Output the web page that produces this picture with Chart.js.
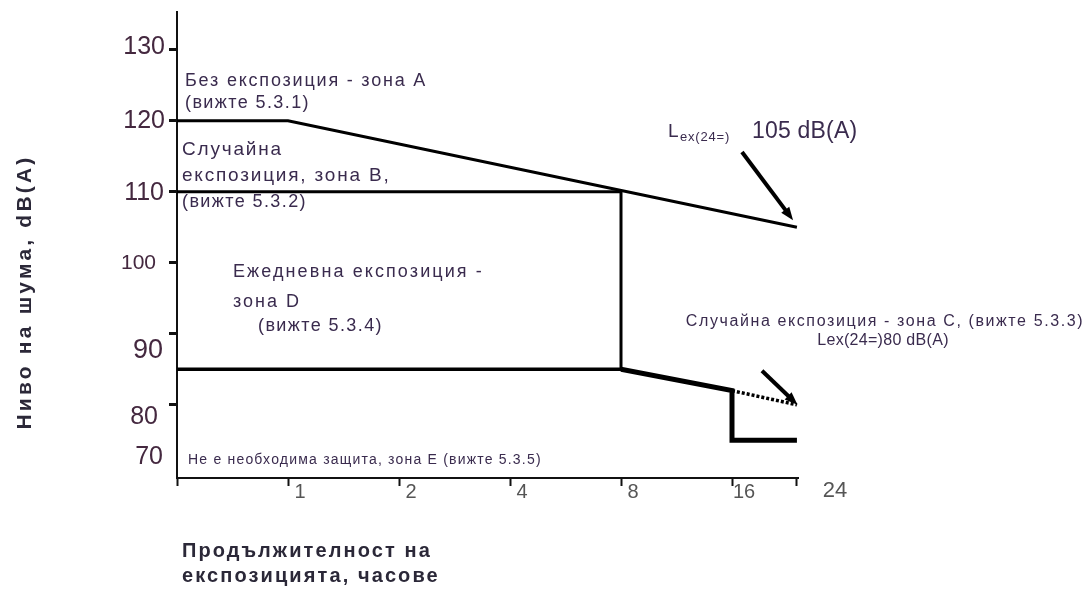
<!DOCTYPE html>
<html>
<head>
<meta charset="utf-8">
<script src="https://cdn.jsdelivr.net/npm/chart.js@4"></script>
<style>
  body { margin: 0; background: #fff; }
  #wrap { width: 1088px; height: 592px; position: relative; }
</style>
</head>
<body>
<div id="wrap"><canvas id="noiseChart"></canvas></div>
<script>
// exposure duration, hours (axis is log2, with 0 at the origin)
var hourTicks = [0, 1, 2, 4, 8, 16, 24];
var hourLabels = ['', '1', '2', '4', '8', '16', '24'];
// noise level tick labels, dB(A)
var dbTicks = [70, 80, 90, 100, 110, 120, 130];

// zone boundaries: hours and dB(A)
var zoneAHours = [0, 1, 24];
var zoneADb = [120, 120, 105];
var zoneBHours = [0, 8, 8];
var zoneBDb = [110, 110, 85];
var zoneDHours = [0, 8];
var zoneDDb = [85, 85];
var zoneCHours = [8, 16, 16, 24];
var zoneCDb = [85, 82, 75, 75];
var zoneCDotHours = [16, 24];
var zoneCDotDb = [82, 80];

var FONT = '"Liberation Sans", Arial, sans-serif';
var TXT = '#3a2b4e';

function hx(h) { return h === 0 ? 0 : 1 + Math.log2(h); }
function pts(hs, dbs) {
  return hs.map(function(h, i) { return { x: hx(h), y: dbs[i] }; });
}
function lineSet(hs, dbs, width, dash) {
  return {
    data: pts(hs, dbs),
    showLine: true,
    borderColor: '#000',
    borderWidth: width,
    borderDash: dash || [],
    pointRadius: 0,
    fill: false,
    tension: 0
  };
}

// y tick labels are placed a little loosely in the original
var yLabelStyle = {
  130: { dy: -3, size: 25, right: 165 },
  120: { dy: 0, size: 25, right: 165 },
  110: { dy: 1, size: 25, right: 164 },
  100: { dy: 0, size: 21, right: 156 },
  90: { dy: 17, size: 27, right: 163 },
  80: { dy: 12, size: 25, right: 158 },
  70: { dy: -19, size: 25, right: 163 }
};

function text(ctx, s, x, y, size, opts) {
  opts = opts || {};
  ctx.save();
  ctx.font = (opts.bold ? 'bold ' : '') + size + 'px ' + FONT;
  ctx.fillStyle = opts.color || TXT;
  ctx.textAlign = opts.align || 'left';
  ctx.textBaseline = 'middle';
  if ('letterSpacing' in ctx) ctx.letterSpacing = (opts.ls || 0) + 'px';
  if (opts.rotate) {
    ctx.translate(x, y);
    ctx.rotate(opts.rotate);
    ctx.fillText(s, 0, 0);
  } else {
    ctx.fillText(s, x, y);
  }
  ctx.restore();
}

function arrow(ctx, x1, y1, x2, y2) {
  var a = Math.atan2(y2 - y1, x2 - x1);
  var len = 13, half = 5;
  ctx.save();
  ctx.strokeStyle = '#000';
  ctx.fillStyle = '#000';
  ctx.lineWidth = 4;
  ctx.beginPath();
  ctx.moveTo(x1, y1);
  ctx.lineTo(x2 - Math.cos(a) * len * 0.7, y2 - Math.sin(a) * len * 0.7);
  ctx.stroke();
  ctx.beginPath();
  ctx.moveTo(x2, y2);
  ctx.lineTo(x2 - Math.cos(a) * len - Math.sin(a) * half, y2 - Math.sin(a) * len + Math.cos(a) * half);
  ctx.lineTo(x2 - Math.cos(a) * len + Math.sin(a) * half, y2 - Math.sin(a) * len - Math.cos(a) * half);
  ctx.closePath();
  ctx.fill();
  ctx.restore();
}

var annotations = {
  id: 'annotations',
  afterDraw: function(chart) {
    var ctx = chart.ctx;
    var xs = chart.scales.x, ys = chart.scales.y;

    dbTicks.forEach(function(v) {
      var st = yLabelStyle[v];
      text(ctx, String(v), st.right, ys.getPixelForValue(v) + st.dy, st.size, { color: '#44283f', align: 'right' });
    });
    // last hour label sits well to the right of its tick
    text(ctx, hourLabels[hourLabels.length - 1], xs.getPixelForValue(hx(24)) + 38, 491, 22, { color: '#555', align: 'center' });

    text(ctx, 'Без експозиция - зона А', 185, 81, 18, { ls: 1.8 });
    text(ctx, '(вижте 5.3.1)', 185, 103, 18, { ls: 1.4 });
    text(ctx, 'Случайна', 182, 150, 19, { ls: 1.8 });
    text(ctx, 'експозиция, зона В,', 182, 176, 19, { ls: 1.8 });
    text(ctx, '(вижте 5.3.2)', 182, 202, 18, { ls: 1.4 });
    text(ctx, 'Ежедневна експозиция -', 233, 272, 18, { ls: 2.1 });
    text(ctx, 'зона D', 233, 302, 18, { ls: 2 });
    text(ctx, '(вижте 5.3.4)', 258, 326, 18, { ls: 1.4 });
    text(ctx, 'Не е необходима защита, зона Е (вижте 5.3.5)', 188, 460, 14, { ls: 1.2 });

    text(ctx, 'L', 668, 132, 19);
    text(ctx, 'ex(24=)', 680, 137, 13, { ls: 0.8 });
    text(ctx, '105 dB(A)', 752, 132, 23, { ls: 0.2 });
    text(ctx, 'Случайна експозиция - зона С, (вижте 5.3.3)', 885, 322, 16, { align: 'center', ls: 1.6 });
    text(ctx, 'Lex(24=)80 dB(A)', 883, 341, 16, { align: 'center', ls: 0.3 });

    // arrows towards the 24 h end points
    arrow(ctx, xs.getPixelForValue(5.09), ys.getPixelForValue(115.6),
               xs.getPixelForValue(5.55), ys.getPixelForValue(106.0));
    arrow(ctx, xs.getPixelForValue(5.27), ys.getPixelForValue(84.8),
               xs.getPixelForValue(5.59), ys.getPixelForValue(80.0));

    // axis titles
    text(ctx, 'Ниво на шума, dB(A)', 25, 292, 21, { bold: true, color: '#2b2838', align: 'center', rotate: -Math.PI / 2, ls: 3.2 });
    text(ctx, 'Продължителност на', 182, 551, 20, { bold: true, color: '#2b2838', ls: 2.1 });
    text(ctx, 'експозицията, часове', 182, 576, 20, { bold: true, color: '#2b2838', ls: 2.1 });
  }
};

window.onload = function() {
  var ctx = document.getElementById('noiseChart').getContext('2d');
  var chart = new Chart(ctx, {
    type: 'scatter',
    data: {
      datasets: [
        lineSet(zoneAHours, zoneADb, 3),
        lineSet(zoneBHours, zoneBDb, 3),
        lineSet(zoneDHours, zoneDDb, 3.5),
        lineSet(zoneCHours, zoneCDb, 5),
        lineSet(zoneCDotHours, zoneCDotDb, 3.5, [3, 2])
      ]
    },
    options: {
      responsive: true,
      maintainAspectRatio: false,
      animation: false,
      layout: { padding: { top: 12, right: 289.4, left: 0, bottom: 0 } },
      plugins: { legend: { display: false }, tooltip: { enabled: false } },
      scales: {
        x: {
          type: 'linear',
          min: 0,
          max: 5.6,
          afterBuildTicks: function(s) {
            s.ticks = hourTicks.map(function(h) { return { value: hx(h) }; });
          },
          afterFit: function(s) { s.height = 114; },
          grid: { drawOnChartArea: false, drawTicks: true, tickLength: 8, tickWidth: 2, tickColor: '#111' },
          border: { color: '#111', width: 2 },
          ticks: {
            autoSkip: false,
            maxRotation: 0,
            labelOffset: 12,
            padding: -6,
            color: '#555',
            font: { family: FONT, size: 20 },
            callback: function(v, i) { return i === hourLabels.length - 1 ? '' : hourLabels[i]; }
          }
        },
        y: {
          min: 69.7,
          max: 135.3,
          afterBuildTicks: function(s) {
            s.ticks = dbTicks.filter(function(v) { return v >= 80; }).map(function(v) { return { value: v }; });
          },
          afterFit: function(s) { s.width = 177; },
          grid: { drawOnChartArea: false, drawTicks: true, tickLength: 8, tickWidth: 3, tickColor: '#111' },
          border: { color: '#111', width: 2 },
          ticks: { display: false }
        }
      }
    },
    plugins: [annotations]
  });
};
</script>
</body>
</html>
